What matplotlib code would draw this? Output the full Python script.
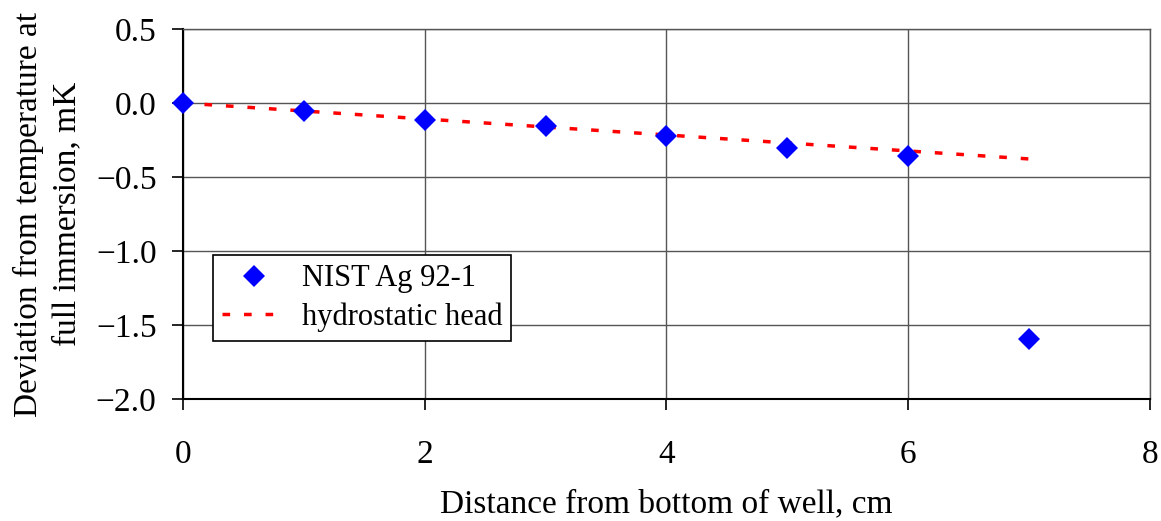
import numpy as np
import matplotlib
matplotlib.use("Agg")
import matplotlib.pyplot as plt

# measured deviations (NIST Ag 92-1 cell)
distance_cm = [0, 1, 2, 3, 4, 5, 6, 7]
deviation_mK = [0.0, -0.054, -0.115, -0.155, -0.223, -0.304, -0.358, -1.595]

# hydrostatic head correction
head_cm = [0, 1, 2, 3, 4, 5, 6, 7]
head_mK = [0.0, -0.054, -0.108, -0.162, -0.216, -0.270, -0.324, -0.378]

x_ticks = [0, 2, 4, 6, 8]
y_ticks = [0.5, 0.0, -0.5, -1.0, -1.5, -2.0]

plt.rcParams["font.family"] = ["Liberation Serif", "DejaVu Serif"]
plt.rcParams["font.size"] = 24

fig = plt.figure(figsize=(11.61, 5.21), dpi=100)
ax = fig.add_axes([0.1576, 0.2342, 0.8329, 0.7101])

ax.plot(head_cm, head_mK, color="red", lw=2.5, dashes=(2.2, 4.0),
        label="hydrostatic head", zorder=3)
ax.plot(distance_cm, deviation_mK, linestyle="none", marker="D", ms=11,
        mec="blue", mfc="blue", mew=0, label="NIST Ag 92-1", zorder=4,
        clip_on=False)

ax.set_xlim(0, 8)
ax.set_ylim(-2.0, 0.5)
ax.set_xticks(x_ticks)
ax.set_yticks(y_ticks)
ax.set_yticklabels([f"{v:.1f}".replace("-", "\u2212") for v in y_ticks])
ax.grid(True, color="#555555", lw=1.0)
ax.set_axisbelow(True)

ax.tick_params(axis="both", direction="out", length=8, width=1.2, labelsize=24)
ax.tick_params(axis="x", pad=21)
ax.tick_params(axis="y", pad=11)
for side in ["top", "right"]:
    ax.spines[side].set_color("#555555")
    ax.spines[side].set_linewidth(1.0)
for side in ["left", "bottom"]:
    ax.spines[side].set_linewidth(1.5)

ax.set_xlabel("Distance from bottom of well, cm", fontsize=24, labelpad=14)
ax.set_ylabel("Deviation from temperature at\nfull immersion, mK", fontsize=24,
              labelpad=10, linespacing=1.3)

handles, labels = ax.get_legend_handles_labels()
leg = ax.legend(handles[::-1], labels[::-1], loc="upper left",
                bbox_to_anchor=(0.031, 0.389), fancybox=False, framealpha=1,
                edgecolor="black", fontsize=22, handlelength=2.1,
                handletextpad=0.5, borderpad=0.3, labelspacing=0.3,
                borderaxespad=0)
leg.get_frame().set_linewidth(1.2)

fig.savefig("out.png", dpi=100)
